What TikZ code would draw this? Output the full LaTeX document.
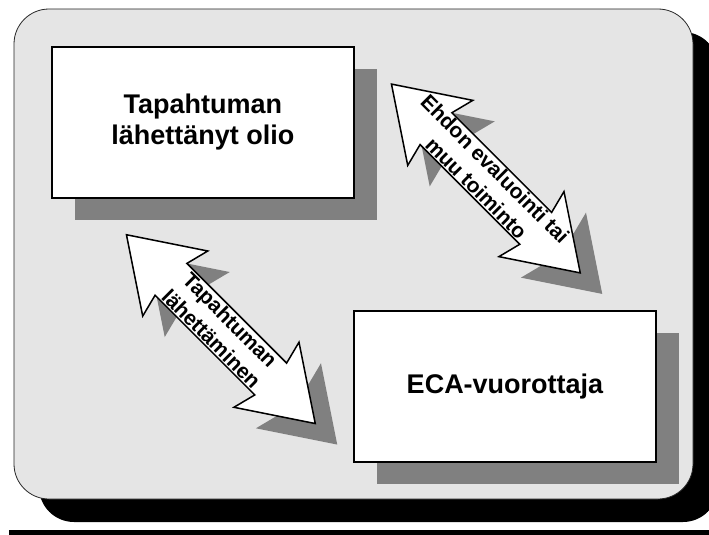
\documentclass[tikz,border=0pt]{standalone}
\usepackage{fontspec}
\setmainfont{Liberation Sans}
\usetikzlibrary{shadows}

\definecolor{panelgray}{RGB}{229,229,229}
\definecolor{shadegray}{RGB}{128,128,128}

\tikzset{
  % double-headed block arrow, centred on the origin, pointing along x
  pics/dblarrow/.style={code={
    \path[pic actions]
      (133.5,0) -- (64.5,46) -- (70.5,22.5) -- (-70.5,22.5) -- (-64.5,46)
      -- (-133.5,0) -- (-64.5,-46) -- (-70.5,-22.5) -- (70.5,-22.5)
      -- (64.5,-46) -- cycle;
  }},
  arrowbody/.style={fill=white, draw=black, line width=1.5pt, line join=miter, rotate=-45},
  arrowshade/.style={fill=shadegray, rotate=-45},
  arrowtext/.style={rotate=-45, align=center, inner sep=0pt,
    font=\fontsize{21}{26.5}\selectfont\bfseries},
  boxnode/.style={draw=black, line width=2pt, fill=white,
    minimum width=302.5pt, minimum height=151pt, align=center,
    font=\fontsize{27}{31}\selectfont\bfseries,
    drop shadow={shadow xshift=23pt, shadow yshift=-22pt, fill=shadegray, opacity=1}},
  panel/.style={fill=panelgray, draw=black!85, line width=0.8pt, rounded corners=35pt},
  panelshadow/.style={fill=black, rounded corners=35pt},
}

\begin{document}
\begin{tikzpicture}[x=1pt, y=-1pt]
  \path[use as bounding box] (0,0) rectangle (709,535);
  \clip (0,0) rectangle (709,535);

  % background panel with its black drop shadow
  \path[panelshadow] (39,32) rectangle (718,522);
  \path[panel] (14,9) rectangle (693,499);

  % rule under the panel
  \fill[black] (9,530) rectangle (712,537);

  % the two boxes
  \node[boxnode] (src) at (202.85,122.35) {Tapahtuman\\lähettänyt olio};
  \node[boxnode] (sched) at (505,386.85) {ECA-vuorottaja};

  % centres of the block arrows
  \coordinate (arrA) at (485.85,178.5);
  \coordinate (arrB) at (220.85,329.15);

  % arrow shadows
  \pic[arrowshade] at ([shift={(22,21)}]arrA) {dblarrow};
  \pic[arrowshade] at ([shift={(22,21)}]arrB) {dblarrow};

  % arrows
  \pic[arrowbody] at (arrA) {dblarrow};
  \pic[arrowbody] at (arrB) {dblarrow};

  % arrow labels
  \node[arrowtext] (lblA) at (arrA) {Ehdon evaluointi tai\\muu toiminto};
  \node[arrowtext] (lblB) at (arrB) {Tapahtuman\\lähettäminen};
\end{tikzpicture}
\end{document}
